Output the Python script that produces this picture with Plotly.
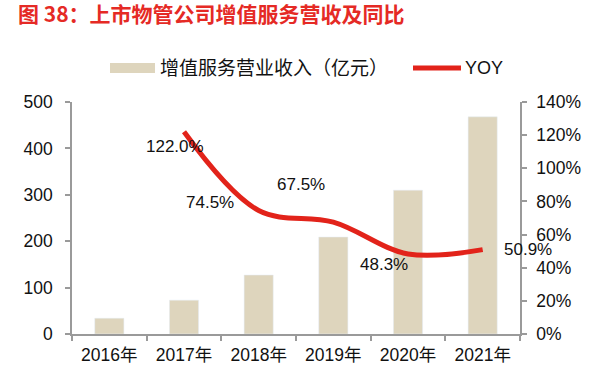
import plotly.graph_objects as go

years = ["2016年", "2017年", "2018年", "2019年", "2020年", "2021年"]
revenue = [34, 73, 127, 209, 310, 468]
yoy_years = ["2017年", "2018年", "2019年", "2020年", "2021年"]
yoy = [122.0, 74.5, 67.5, 48.3, 50.9]
yoy_labels = ["122.0%", "74.5%", "67.5%", "48.3%", "50.9%"]
label_shift_x = [-9, -49, -32, -24, 45]
label_shift_y = [-15, 8, 38, -11, 0]

FONT = "Liberation Sans, Arial, Noto Sans CJK SC, sans-serif"
BAR_COLOR = "#DED5BD"
LINE_COLOR = "#E2231A"
AXIS_COLOR = "#9a9a9a"

W, H = 593, 385
L, R, T, B = 72, 73, 102, 51
PW, PH = W - L - R, H - T - B


def px(x):
    return (x - L) / PW


def py(y):
    return (H - B - y) / PH


fig = go.Figure()
fig.add_trace(go.Bar(x=years, y=revenue, marker_color=BAR_COLOR, width=0.39,
                     name="增值服务营业收入（亿元）", showlegend=False))
fig.add_trace(go.Scatter(x=yoy_years, y=yoy, yaxis="y2", mode="lines",
                         line=dict(color=LINE_COLOR, width=5, shape="spline", smoothing=1),
                         name="YOY", showlegend=False))

for xv, yv, t, sx, sy in zip(yoy_years, yoy, yoy_labels, label_shift_x, label_shift_y):
    fig.add_annotation(x=xv, y=yv, yref="y2", text=t, showarrow=False,
                       xshift=sx, yshift=sy, font=dict(size=17, color="#111111", family=FONT))

# custom legend
fig.add_shape(type="rect", xref="paper", yref="paper", x0=px(110), x1=px(155), y0=py(73), y1=py(63),
              fillcolor=BAR_COLOR, line=dict(width=0))
fig.add_annotation(xref="paper", yref="paper", x=px(158), y=py(68), xanchor="left", yanchor="middle",
                   text="增值服务营业收入（亿元）", showarrow=False,
                   font=dict(size=19, color="#111111", family=FONT))
fig.add_shape(type="line", xref="paper", yref="paper", x0=px(413), x1=px(461), y0=py(68), y1=py(68),
              line=dict(color=LINE_COLOR, width=5))
fig.add_annotation(xref="paper", yref="paper", x=px(463), y=py(68), xanchor="left", yanchor="middle",
                   text="YOY", showarrow=False, font=dict(size=18, color="#111111", family=FONT))

fig.update_layout(
    width=W, height=H,
    margin=dict(l=L, r=R, t=T, b=B),
    paper_bgcolor="white", plot_bgcolor="white",
    font=dict(family=FONT, size=17, color="#111111"),
    title=dict(text="<b>图 38：上市物管公司增值服务营收及同比</b>", xref="container", yref="container",
               x=18 / W, xanchor="left", y=1 - 14.5 / H, yanchor="middle",
               font=dict(size=21, color="#E52A25", family="Noto Sans CJK SC, sans-serif")),
    xaxis=dict(range=[-0.5, 5.5], showline=True, linecolor=AXIS_COLOR, linewidth=1.5, ticks="outside",
               tickson="boundaries", ticklen=5, tickcolor=AXIS_COLOR, tickwidth=1.5,
               showgrid=False, tickfont=dict(size=17.5), ticklabelstandoff=4),
    yaxis=dict(range=[0, 500], dtick=100, showline=True, linecolor=AXIS_COLOR, linewidth=1.5,
               ticks="outside", ticklen=5, tickcolor=AXIS_COLOR, tickwidth=1.5,
               showgrid=False, zeroline=False, tickfont=dict(size=17.5), ticklabelstandoff=9),
    yaxis2=dict(range=[0, 140], dtick=20, ticksuffix="%", overlaying="y", side="right",
                showline=True, linecolor=AXIS_COLOR, linewidth=1.5, ticks="outside", ticklen=5,
                tickcolor=AXIS_COLOR, tickwidth=1.5, showgrid=False, zeroline=False,
                tickfont=dict(size=17.5), ticklabelstandoff=6),
)

fig.write_html("out.html", config={"displayModeBar": False},
               post_script="document.body.style.margin='0';")
